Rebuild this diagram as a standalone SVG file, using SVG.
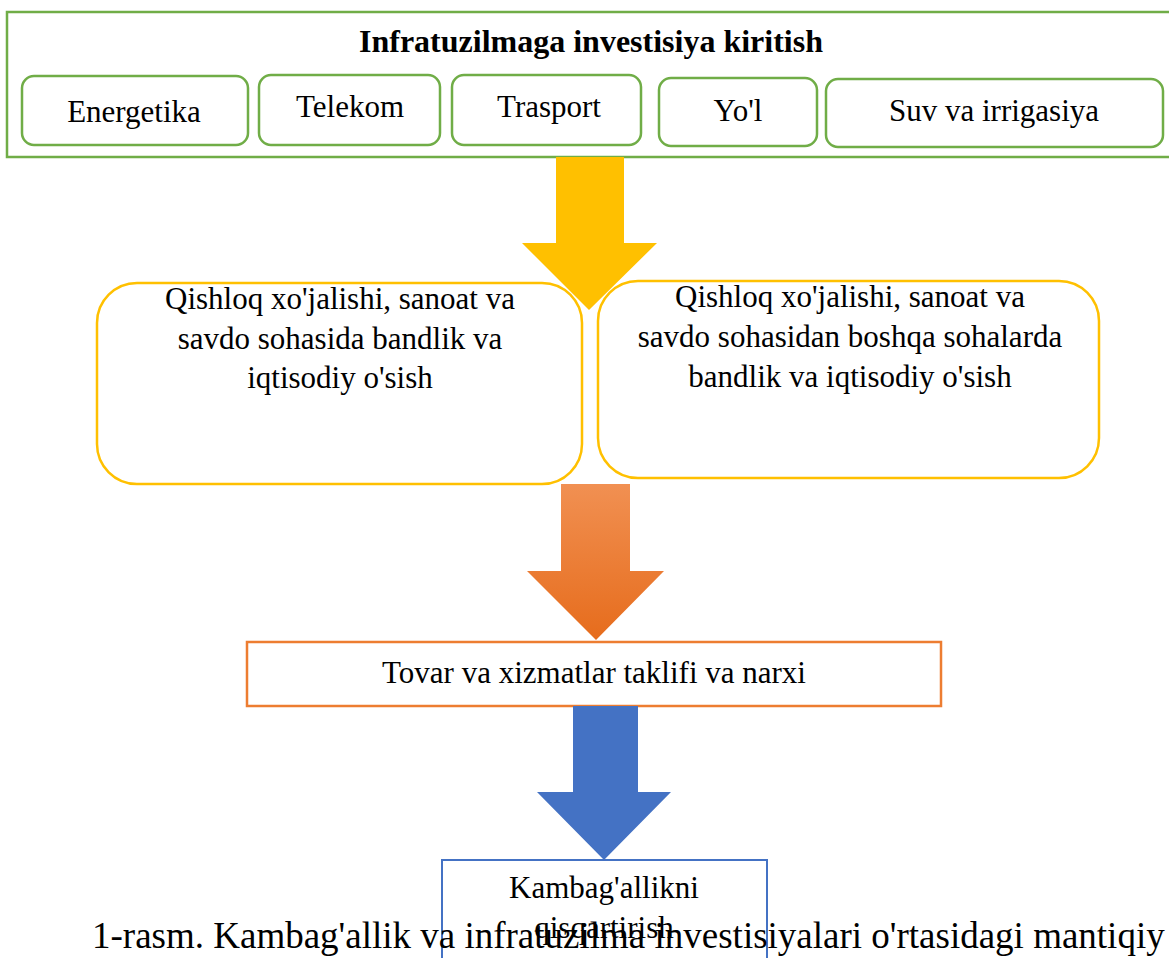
<svg xmlns="http://www.w3.org/2000/svg" width="1169" height="958" viewBox="0 0 1169 958">
<style>
text{font-family:"Liberation Serif","Times New Roman",serif;fill:#000;text-anchor:middle}
.t{font-size:31px}
.title{font-size:32px;font-weight:bold}
.g{fill:#fff;stroke:#70AD47;stroke-width:2.5}
.y{fill:#fff;stroke:#FFC000;stroke-width:2.5}
.cap{font-size:37px;text-anchor:start}
</style>
<defs>
<linearGradient id="og" x1="0" y1="0" x2="0" y2="1">
<stop offset="0" stop-color="#F19052"/>
<stop offset="1" stop-color="#E66C1C"/>
</linearGradient>
</defs>
<rect width="1169" height="958" fill="#fff"/>
<g id="infra">
<rect class="g" x="7" y="12" width="1180" height="145"/>
<text class="title" x="591" y="52">Infratuzilmaga investisiya kiritish</text>
</g>
<g id="energetika"><rect class="g" x="22" y="76" width="226" height="69" rx="12"/><text class="t" x="134" y="122">Energetika</text></g>
<g id="telekom"><rect class="g" x="259" y="75" width="181" height="70" rx="12"/><text class="t" x="350" y="117">Telekom</text></g>
<g id="trasport"><rect class="g" x="452" y="75" width="189" height="70" rx="12"/><text class="t" x="549" y="117">Trasport</text></g>
<g id="yol"><rect class="g" x="659" y="78" width="158" height="68" rx="12"/><text class="t" x="738" y="121">Yo'l</text></g>
<g id="suv"><rect class="g" x="826" y="79" width="337" height="68" rx="12"/><text class="t" x="994" y="121">Suv va irrigasiya</text></g>
<g id="qishloq1"><rect class="y" x="97" y="283" width="485" height="201" rx="40"/>
<text class="t" x="340" y="309">Qishloq xo'jalishi, sanoat va</text>
<text class="t" x="340" y="349">savdo sohasida bandlik va</text>
<text class="t" x="340" y="388">iqtisodiy o'sish</text></g>
<g id="qishloq2"><rect class="y" x="598" y="281" width="501" height="197" rx="40"/>
<text class="t" x="850" y="307">Qishloq xo'jalishi, sanoat va</text>
<text class="t" x="850" y="347">savdo sohasidan boshqa sohalarda</text>
<text class="t" x="850" y="387">bandlik va iqtisodiy o'sish</text></g>
<g id="tovar"><rect x="247" y="642" width="694" height="64" fill="#fff" stroke="#ED7D31" stroke-width="2.5"/>
<text class="t" x="594" y="683">Tovar va xizmatlar taklifi va narxi</text></g>
<g id="kambag"><rect x="442" y="860" width="325" height="130" fill="#fff" stroke="#4472C4" stroke-width="2"/>
<text class="t" x="604" y="898">Kambag'allikni</text>
<text class="t" x="604" y="938">qisqartirish</text></g>
<g id="connectors">
<polygon points="556,157 624,157 624,243 657,243 589,310 522,243 556,243" fill="#FFC000"/>
<polygon points="561,484 630,484 630,571 664,571 596,640 527,571 561,571" fill="url(#og)"/>
<polygon points="573,706 638,706 638,792 671,792 604,860 537,792 573,792" fill="#4472C4"/>
</g>
<text class="cap" x="92" y="948">1-rasm. Kambag'allik va infratuzilma investisiyalari o'rtasidagi mantiqiy</text>
</svg>
